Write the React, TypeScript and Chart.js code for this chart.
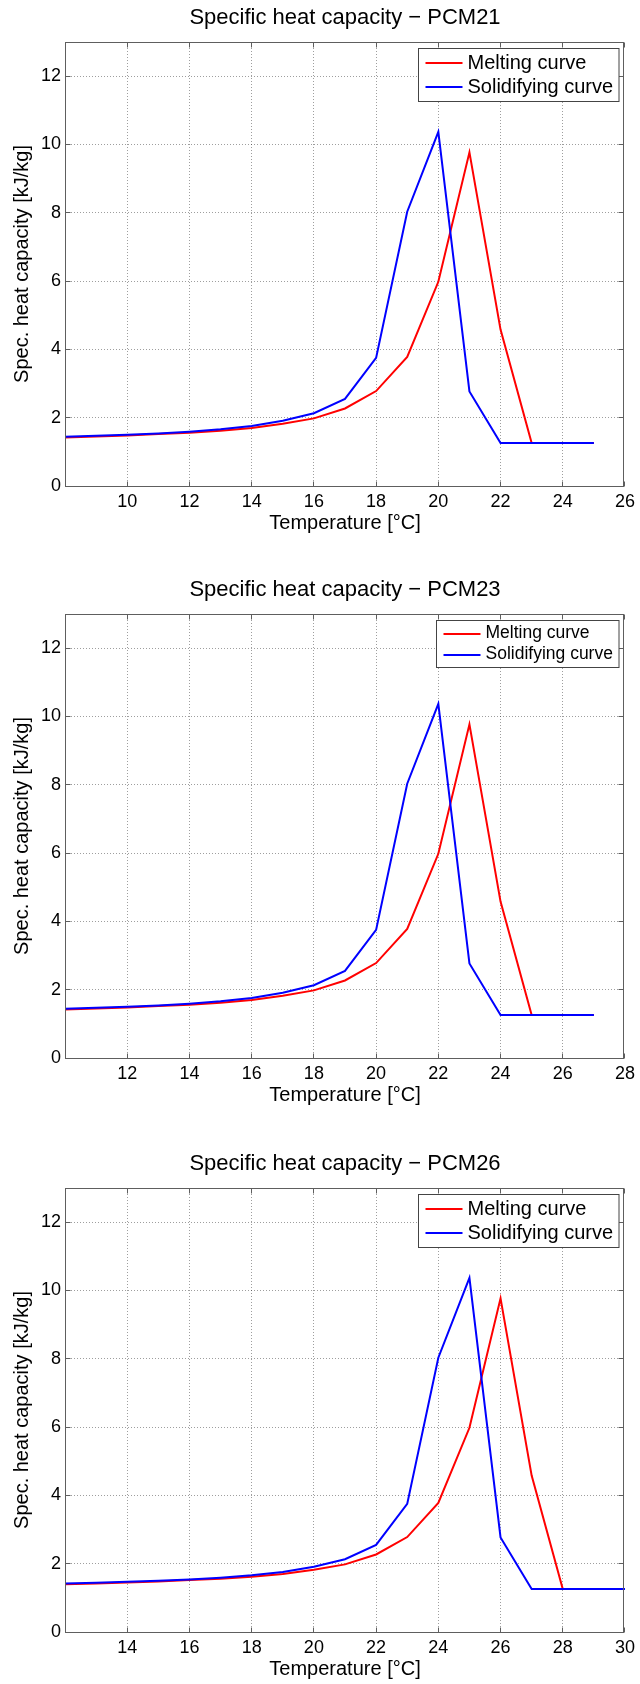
import React, { useEffect, useRef } from "react";
import { Chart, registerables } from "chart.js";

Chart.register(...registerables);

const FONT_FAMILY = "'Liberation Sans', Arial, Helvetica, sans-serif";

// ---- Data ----
const PCM21_TEMPERATURES = [7, 8, 9, 10, 11, 12, 13, 14, 15, 16, 17, 18, 19, 20, 21, 22, 23, 24, 25];
const PCM23_TEMPERATURES = [9, 10, 11, 12, 13, 14, 15, 16, 17, 18, 19, 20, 21, 22, 23, 24, 25, 26, 27];
const PCM26_TEMPERATURES = [12, 13, 14, 15, 16, 17, 18, 19, 20, 21, 22, 23, 24, 25, 26, 27, 28, 29, 30];

// specific heat capacity [kJ/kg], same curve shape for every PCM (shifted in temperature)
const MELTING_CP = [1.4, 1.42, 1.45, 1.48, 1.52, 1.56, 1.62, 1.7, 1.82, 1.98, 2.27, 2.78, 3.78, 5.98, 9.77, 4.58, 1.26, 1.26, 1.26];
const SOLIDIFYING_CP = [1.42, 1.44, 1.47, 1.5, 1.54, 1.59, 1.66, 1.76, 1.91, 2.13, 2.55, 3.75, 8.03, 10.37, 2.77, 1.26, 1.26, 1.26, 1.26];

const SERIES_LABELS = ["Melting curve", "Solidifying curve"];
const PANEL_TITLES = [
  "Specific heat capacity \u2212 PCM21",
  "Specific heat capacity \u2212 PCM23",
  "Specific heat capacity \u2212 PCM26",
];
const X_MIN = [8, 10, 12];
const X_MAX = [26, 28, 30];
const Y_MIN = 0;
const Y_MAX = 13;
const X_STEP = 2;
const Y_STEP = 2;
const X_TITLE = "Temperature [\u00B0C]";
const Y_TITLE = "Spec. heat capacity [kJ/kg]";

// ---- Layout (style, not data) ----
const PANEL_TOPS = [0, 572, 1146];
const PANEL_HEIGHTS = [560, 560, 538];
const LEGEND_FONT = [20, 17.5, 20];

const matlabFrame = {
  id: "matlabFrame",
  beforeDatasetsDraw(chart: any) {
    const { ctx, chartArea: a, scales } = chart;
    const x = scales.x;
    const y = scales.y;
    ctx.save();
    ctx.strokeStyle = "rgba(0,0,0,0.38)";
    ctx.lineWidth = 1;
    ctx.setLineDash([1, 2]);
    x.ticks.forEach((t: any) => {
      const px = Math.floor(x.getPixelForValue(t.value)) + 0.5;
      if (px <= a.left + 1 || px >= a.right - 1) return;
      ctx.beginPath();
      ctx.moveTo(px, a.top);
      ctx.lineTo(px, a.bottom);
      ctx.stroke();
    });
    y.ticks.forEach((t: any) => {
      const py = Math.floor(y.getPixelForValue(t.value)) + 0.5;
      if (py <= a.top + 1 || py >= a.bottom - 1) return;
      ctx.beginPath();
      ctx.moveTo(a.left, py);
      ctx.lineTo(a.right, py);
      ctx.stroke();
    });
    ctx.restore();
  },
  afterDatasetsDraw(chart: any, _args: any, opts: any) {
    const { ctx, chartArea: a, scales } = chart;
    const x = scales.x;
    const y = scales.y;
    const L = Math.floor(a.left) + 0.5;
    const R = Math.floor(a.right) - 0.5;
    const T = Math.floor(a.top) + 0.5;
    const B = Math.floor(a.bottom) + 0.5;
    ctx.save();
    ctx.setLineDash([]);
    ctx.strokeStyle = "#5e5e5e";
    ctx.lineWidth = 1;
    const tl = 5;
    ctx.beginPath();
    x.ticks.forEach((t: any) => {
      const px = Math.floor(x.getPixelForValue(t.value)) + 0.5;
      ctx.moveTo(px, B);
      ctx.lineTo(px, B - tl);
      ctx.moveTo(px, T);
      ctx.lineTo(px, T + tl);
    });
    y.ticks.forEach((t: any) => {
      const py = Math.floor(y.getPixelForValue(t.value)) + 0.5;
      ctx.moveTo(L, py);
      ctx.lineTo(L + tl, py);
      ctx.moveTo(R, py);
      ctx.lineTo(R - tl, py);
    });
    ctx.stroke();
    ctx.strokeRect(L, T, R - L, B - T);

    // title, centred over the plot area
    ctx.fillStyle = "#000";
    ctx.font = `22px ${FONT_FAMILY}`;
    ctx.textAlign = "center";
    ctx.textBaseline = "middle";
    ctx.fillText(opts.title || "", (a.left + a.right) / 2, a.top - 24.5);

    // legend box (inside, top-right)
    const fs = opts.fontSize || 20;
    ctx.font = `${fs}px ${FONT_FAMILY}`;
    const datasets = chart.data.datasets;
    let maxW = 0;
    datasets.forEach((d: any) => {
      maxW = Math.max(maxW, ctx.measureText(d.label).width);
    });
    const rowH = fs * 1.2;
    const boxW = 7 + 37 + 5 + maxW + 7;
    const boxH = 2 * rowH + 5;
    const boxRight = a.right - 5.5;
    const boxLeft = Math.round(boxRight - boxW) + 0.5;
    const boxTop = Math.round(a.top + 6) + 0.5;
    ctx.fillStyle = "#ffffff";
    ctx.fillRect(boxLeft, boxTop, Math.round(boxRight) - boxLeft, boxH);
    ctx.strokeStyle = "#444444";
    ctx.lineWidth = 1;
    ctx.strokeRect(boxLeft, boxTop, Math.round(boxRight) - boxLeft, Math.round(boxH));
    datasets.forEach((d: any, i: number) => {
      const cy = boxTop + 2.5 + rowH / 2 + i * rowH;
      ctx.strokeStyle = d.borderColor;
      ctx.lineWidth = 2;
      ctx.beginPath();
      ctx.moveTo(boxLeft + 7, Math.round(cy));
      ctx.lineTo(boxLeft + 44, Math.round(cy));
      ctx.stroke();
      ctx.fillStyle = "#000";
      ctx.textAlign = "left";
      ctx.textBaseline = "middle";
      ctx.fillText(d.label, boxLeft + 49, cy);
    });
    ctx.restore();
  },
};

type PanelProps = {
  index: number;
  temps: number[];
};

function Panel({ index, temps }: PanelProps) {
  const ref = useRef<HTMLCanvasElement | null>(null);
  const H = PANEL_HEIGHTS[index];
  const xMin = X_MIN[index];
  const xMax = X_MAX[index];

  useEffect(() => {
    if (!ref.current) return;
    const chart = new Chart(ref.current, {
      type: "line",
      data: {
        datasets: [
          {
            label: SERIES_LABELS[0],
            data: temps.map((t, i) => ({ x: t, y: MELTING_CP[i] })),
            borderColor: "#ff0000",
            backgroundColor: "#ff0000",
            borderWidth: 2,
            pointRadius: 0,
            tension: 0,
            fill: false,
            order: 2,
          },
          {
            label: SERIES_LABELS[1],
            data: temps.map((t, i) => ({ x: t, y: SOLIDIFYING_CP[i] })),
            borderColor: "#0000ff",
            backgroundColor: "#0000ff",
            borderWidth: 2,
            pointRadius: 0,
            tension: 0,
            fill: false,
            order: 1,
          },
        ],
      },
      options: {
        animation: false,
        responsive: false,
        maintainAspectRatio: false,
        events: [],
        layout: { padding: { left: 0, right: 12.5, top: 42, bottom: 0 } },
        plugins: {
          legend: { display: false },
          tooltip: { enabled: false },
          title: { display: false },
          // @ts-ignore
          matlabFrame: { fontSize: LEGEND_FONT[index], title: PANEL_TITLES[index] },
        },
        scales: {
          x: {
            type: "linear",
            min: xMin,
            max: xMax,
            grid: { display: false, drawTicks: false },
            border: { display: false },
            ticks: {
              stepSize: X_STEP,
              padding: 5,
              color: "#000",
              maxRotation: 0,
              autoSkip: false,
              font: { size: 18, family: FONT_FAMILY },
              callback: (v: any) => (v === xMin ? "" : String(v)),
            },
            title: {
              display: true,
              text: X_TITLE,
              color: "#000",
              font: { size: 20, family: FONT_FAMILY },
              padding: { top: 0, bottom: H - 523 - 12 },
            },
            afterFit: (s: any) => {
              s.height = H - 486;
            },
          },
          y: {
            type: "linear",
            min: Y_MIN,
            max: Y_MAX,
            grid: { display: false, drawTicks: false },
            border: { display: false },
            ticks: {
              stepSize: Y_STEP,
              includeBounds: false,
              padding: 4,
              color: "#000",
              font: { size: 18, family: FONT_FAMILY },
            },
            title: {
              display: true,
              text: Y_TITLE,
              color: "#000",
              font: { size: 20, family: FONT_FAMILY },
              padding: { top: 10.5, bottom: 0 },
            },
            afterFit: (s: any) => {
              s.width = 65;
            },
          },
        },
      } as any,
      plugins: [matlabFrame],
    });
    return () => chart.destroy();
  }, []);

  return (
    <canvas
      ref={ref}
      width={640}
      height={H}
      style={{
        position: "absolute",
        left: 0,
        top: PANEL_TOPS[index],
        width: 640,
        height: H,
        display: "block",
      }}
    />
  );
}

export default function App() {
  return (
    <div
      style={{
        position: "absolute",
        left: 0,
        top: 0,
        width: 640,
        height: 1684,
        background: "#ffffff",
        overflow: "hidden",
      }}
    >
      <Panel index={0} temps={PCM21_TEMPERATURES} />
      <Panel index={1} temps={PCM23_TEMPERATURES} />
      <Panel index={2} temps={PCM26_TEMPERATURES} />
    </div>
  );
}
